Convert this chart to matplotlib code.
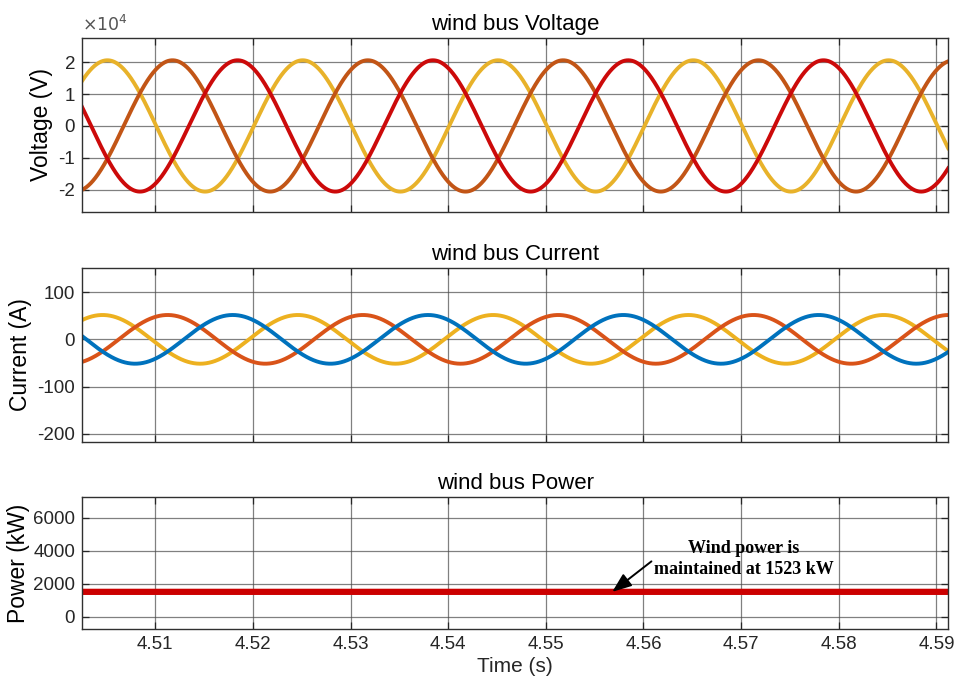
import numpy as np
import matplotlib
matplotlib.use("Agg")
import matplotlib.pyplot as plt
from matplotlib.ticker import FixedLocator

# ---- data ----
t_start, t_end = 4.5025, 4.5912
frequency_hz = 50.0
voltage_amplitude = 2.06e4          # V
voltage_peak_time_yellow = 4.5051   # s, time of a yellow-phase peak
current_amplitude = 51.5            # A
current_peak_time_yellow = 4.5046   # s
wind_power_kw = 1523.0              # kW
phase_shifts = [0.0, -2 * np.pi / 3, -4 * np.pi / 3]

voltage_colors = ["#e8b22a", "#c25516", "#cc0a0a"]
current_colors = ["#edb120", "#d95319", "#0072bd"]

x_ticks = [4.51, 4.52, 4.53, 4.54, 4.55, 4.56, 4.57, 4.58, 4.59]
v_ticks = [-2e4, -1e4, 0, 1e4, 2e4]
v_ticklabels = ["-2", "-1", "0", "1", "2"]
i_ticks = [-200, -100, 0, 100]
p_ticks = [0, 2000, 4000, 6000]

t = np.linspace(t_start, t_end, 2000)
w = 2 * np.pi * frequency_hz
voltages = [voltage_amplitude * np.cos(w * (t - voltage_peak_time_yellow) + ph) for ph in phase_shifts]
currents = [current_amplitude * np.cos(w * (t - current_peak_time_yellow) + ph) for ph in phase_shifts]
power = np.full_like(t, wind_power_kw)

plt.rcParams["font.family"] = ["Liberation Sans", "DejaVu Sans"]
plt.rcParams["axes.unicode_minus"] = False
fig = plt.figure(figsize=(9.56, 6.83), dpi=100)

left, width = 0.0858, 0.906
ax1 = fig.add_axes([left, 0.6896, width, 0.2548])
ax2 = fig.add_axes([left, 0.3529, width, 0.2548])
ax3 = fig.add_axes([left, 0.0791, width, 0.1933])

txt = "#262626"
for ax in (ax1, ax2, ax3):
    ax.set_xlim(t_start, t_end)
    ax.xaxis.set_major_locator(FixedLocator(x_ticks))
    ax.grid(True, color="#4a4a4a", linewidth=0.9, alpha=0.7)
    ax.tick_params(direction="in", length=5, width=0.9, top=True, right=True,
                   labelsize=13.5, colors=txt, pad=5)
    for s in ax.spines.values():
        s.set_color("#303030")
        s.set_linewidth(1.0)
    ax.set_axisbelow(True)

for v, c in zip(voltages, voltage_colors):
    ax1.plot(t, v, color=c, linewidth=2.8)
ax1.set_ylim(-2.7e4, 2.76e4)
ax1.set_yticks(v_ticks)
ax1.set_yticklabels(v_ticklabels)
ax1.set_xticklabels([])
ax1.set_ylabel("Voltage (V)", fontsize=16.5, color="black", labelpad=4)
ax1.set_title("wind bus Voltage", fontsize=16, color="black", pad=6)
ax1.text(0.0, 1.02, r"$\times10^4$", transform=ax1.transAxes, fontsize=12.5,
         color="#555555", ha="left", va="bottom")

for i, c in zip(currents, current_colors):
    ax2.plot(t, i, color=c, linewidth=2.8)
ax2.set_ylim(-217, 151)
ax2.set_yticks(i_ticks)
ax2.set_xticklabels([])
ax2.set_ylabel("Current (A)", fontsize=16.5, color="black", labelpad=4)
ax2.set_title("wind bus Current", fontsize=16, color="black", pad=6)

ax3.plot(t, power, color="#cc0000", linewidth=4.5)
ax3.set_ylim(-727, 7273)
ax3.set_yticks(p_ticks)
ax3.set_ylabel("Power (kW)", fontsize=16.5, color="black", labelpad=2)
ax3.set_title("wind bus Power", fontsize=16, color="black", pad=6)
ax3.set_xlabel("Time (s)", fontsize=15, color=txt, labelpad=3)
ax3.annotate("Wind power is\nmaintained at 1523 kW",
             xy=(4.5568, wind_power_kw), xytext=(4.5703, 3500),
             textcoords="data", ha="center", va="center",
             fontsize=13, fontweight="bold", family=["Liberation Serif"],
             linespacing=1.3,
             arrowprops=dict(arrowstyle="-|>,head_length=0.9,head_width=0.35",
                             color="black", lw=1.4, shrinkA=0, shrinkB=0,
                             relpos=(0.0, 0.5)))

fig.savefig("out.png", dpi=100)
